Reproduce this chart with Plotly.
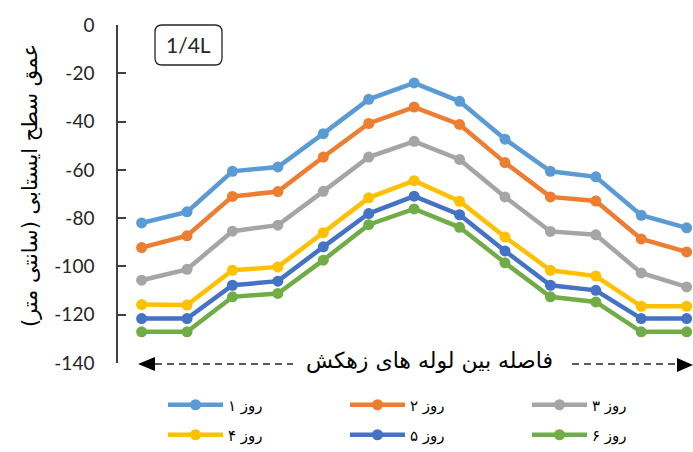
import plotly.graph_objects as go

# =============================================================================
# DATOS
# =============================================================================

POSITIONS = list(range(1, 14))

SERIES_NAMES = ["۱ روز", "۲ روز", "۳ روز", "۴ روز", "۵ روز", "۶ روز"]
SERIES_COLORS = ["#5B9BD5", "#ED7D31", "#A5A5A5", "#FFC000", "#4472C4", "#70AD47"]

DAY_1 = [-82, -77.4, -60.6, -58.8, -45, -30.8, -24, -31.6, -47.3, -60.6, -62.9, -78.8, -84]
DAY_2 = [-92.2, -87.3, -71, -69, -54.7, -40.8, -34, -41.2, -57, -71.2, -72.9, -88.6, -94]
DAY_3 = [-105.7, -101.2, -85.4, -82.9, -68.9, -54.7, -48.2, -55.7, -71.2, -85.5, -86.9, -102.7, -108.5]
DAY_4 = [-115.8, -116, -101.6, -100.2, -86, -71.6, -64.5, -73, -87.8, -101.6, -104, -116.5, -116.5]
DAY_5 = [-121.6, -121.6, -107.8, -106.1, -91.9, -78.1, -70.9, -78.6, -93.6, -107.8, -109.9, -121.6, -121.6]
DAY_6 = [-127.1, -127.1, -112.6, -111.2, -97.4, -82.7, -76.2, -83.8, -98.5, -112.6, -114.7, -127.1, -127.1]

SERIES_VALUES = [DAY_1, DAY_2, DAY_3, DAY_4, DAY_5, DAY_6]

Y_TICKS = [0, -20, -40, -60, -80, -100, -120, -140]

# =============================================================================
# CONFIG VISUAL
# =============================================================================

FONT = "Lato, DejaVu Sans, sans-serif"
FONT_FA = "DejaVu Sans, sans-serif"
COLOR_TEXT = "#262626"
COLOR_AXIS = "#404040"

W, H = 693, 452
M_L, M_R, M_T, M_B = 118, 0, 25, 89
PLOT_W = W - M_L - M_R
PLOT_H = H - M_T - M_B


def _px(x):
    return (x - M_L) / PLOT_W


def _py(y):
    return (H - M_B - y) / PLOT_H


def _rounded_box(x0, y0, x1, y1, r):
    # caja con esquinas redondeadas, en pixeles -> coordenadas paper
    pts = [
        f"M {_px(x0 + r)} {_py(y0)}",
        f"L {_px(x1 - r)} {_py(y0)}",
        f"Q {_px(x1)} {_py(y0)} {_px(x1)} {_py(y0 + r)}",
        f"L {_px(x1)} {_py(y1 - r)}",
        f"Q {_px(x1)} {_py(y1)} {_px(x1 - r)} {_py(y1)}",
        f"L {_px(x0 + r)} {_py(y1)}",
        f"Q {_px(x0)} {_py(y1)} {_px(x0)} {_py(y1 - r)}",
        f"L {_px(x0)} {_py(y0 + r)}",
        f"Q {_px(x0)} {_py(y0)} {_px(x0 + r)} {_py(y0)}",
        "Z",
    ]
    return " ".join(pts)


def _triangle(tip_x, base_x, yc, half):
    return (f"M {_px(tip_x)} {_py(yc)} L {_px(base_x)} {_py(yc - half)} "
            f"L {_px(base_x)} {_py(yc + half)} Z")


# =============================================================================
# FIGURA
# =============================================================================

fig = go.Figure()

for i, (name, color, values) in enumerate(zip(SERIES_NAMES, SERIES_COLORS, SERIES_VALUES)):
    fig.add_trace(
        go.Scatter(
            x=POSITIONS,
            y=values,
            mode="lines+markers",
            name=name,
            line=dict(color=color, width=4.5),
            marker=dict(color=color, size=11),
            cliponaxis=False,
            legend="legend" if i < 3 else "legend2",
        )
    )

shapes = []

# caja "1/4L"
shapes.append(dict(
    type="path", xref="paper", yref="paper",
    path=_rounded_box(155, 25, 222, 65, 7),
    line=dict(color="#262626", width=1.3),
    fillcolor="white",
))

# flechas discontinuas del eje horizontal
line_y = _py(364)
for x0, x1 in [(155, 293), (572, 679)]:
    shapes.append(dict(
        type="line", xref="paper", yref="paper",
        x0=_px(x0), x1=_px(x1), y0=line_y, y1=line_y,
        line=dict(color="#262626", width=1.5, dash="7px,5px"),
    ))

shapes.append(dict(
    type="path", xref="paper", yref="paper",
    path=_triangle(138, 155, 364, 7),
    fillcolor="#000000", line=dict(width=0),
))
shapes.append(dict(
    type="path", xref="paper", yref="paper",
    path=_triangle(693, 677, 365, 7),
    fillcolor="#000000", line=dict(width=0),
))

annotations = [
    dict(
        text="1/4L", xref="paper", yref="paper",
        x=_px(188.5), y=_py(45), showarrow=False,
        font=dict(family=FONT, size=21, color=COLOR_TEXT),
        xanchor="center", yanchor="middle",
    ),
    dict(
        text="فاصله بین لوله های زهکش", xref="paper", yref="paper",
        x=_px(429), y=_py(361), showarrow=False,
        font=dict(family=FONT_FA, size=22, color="#000000"),
        xanchor="center", yanchor="middle",
        bgcolor="white",
    ),
    dict(
        text="عمق سطح ایستابی (سانتی متر)", xref="paper", yref="paper",
        x=_px(30), y=_py(186), showarrow=False, textangle=-90,
        font=dict(family=FONT_FA, size=21, color="#000000"),
        xanchor="center", yanchor="middle",
    ),
]

legend_common = dict(
    orientation="h",
    x=_px(163),
    xanchor="left", yanchor="middle",
    entrywidth=112, entrywidthmode="pixels",
    itemwidth=55,
    font=dict(family=FONT_FA, size=15, color="#000000"),
    bgcolor="rgba(0,0,0,0)",
)

fig.update_layout(
    width=W,
    height=H,
    margin=dict(l=M_L, r=M_R, t=M_T, b=M_B, pad=0, autoexpand=False),
    paper_bgcolor="white",
    plot_bgcolor="white",
    font=dict(family=FONT, color=COLOR_TEXT),
    shapes=shapes,
    annotations=annotations,
    showlegend=True,
    legend=dict(legend_common, y=_py(405)),
    legend2=dict(legend_common, y=_py(435)),
)

fig.update_xaxes(
    range=[0.48, 13.14],
    visible=False,
    showgrid=False,
    zeroline=False,
)

fig.update_yaxes(
    range=[-140, 0],
    tickvals=Y_TICKS,
    ticktext=[str(v) for v in Y_TICKS],
    showgrid=False,
    zeroline=False,
    showline=True,
    linecolor=COLOR_AXIS,
    linewidth=1.5,
    ticks="inside",
    ticklen=8,
    tickwidth=1.5,
    tickcolor=COLOR_AXIS,
    tickfont=dict(family=FONT, size=19, color=COLOR_TEXT),
    ticklabelstandoff=18,
    automargin=False,
)

# quitar el margen por defecto del body para que la figura empiece en (0, 0)
fig.write_html(
    "out.html",
    config={"displayModeBar": False},
    post_script="document.body.style.margin = '0';",
)
